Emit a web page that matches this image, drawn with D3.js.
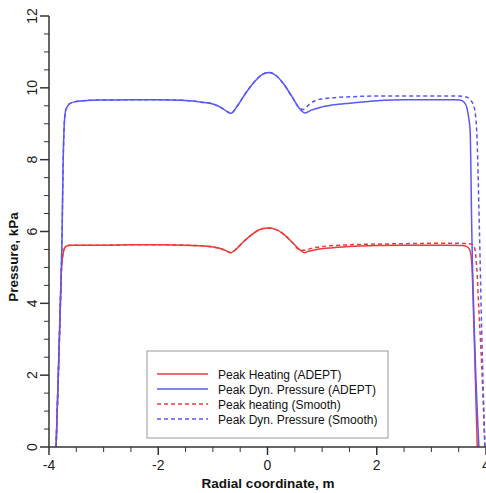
<!DOCTYPE html>
<html><head><meta charset="utf-8">
<script src="https://cdn.jsdelivr.net/npm/d3@7"></script>
<style>body{margin:0;background:#fff}svg{display:block}text{font-family:"Liberation Sans",Arial,sans-serif}</style>
</head><body><svg id="c" width="486" height="493"></svg>
<script>
// data
const heatAdeptX = [-3.87,-3.82,-3.77,-3.74,-3.71,-3.67,-3.62,-3.55,-3.3,-3.0,-2.5,-2.0,-1.5,-1.2,-1.0,-0.85,-0.74,-0.67,-0.58,-0.45,-0.3,-0.15,0,0.15,0.3,0.45,0.6,0.67,0.75,0.9,1.2,1.6,2.0,2.5,3.0,3.3,3.55,3.65,3.70,3.74,3.78,3.84];
const heatAdeptY = [0,2.5,5.0,5.4,5.55,5.6,5.62,5.62,5.62,5.62,5.63,5.63,5.62,5.6,5.57,5.52,5.45,5.41,5.5,5.7,5.9,6.05,6.1,6.06,5.92,5.7,5.48,5.41,5.45,5.5,5.55,5.59,5.61,5.62,5.62,5.62,5.61,5.58,5.5,5.1,3.3,0];
const dynAdeptX = [-3.87,-3.81,-3.76,-3.74,-3.72,-3.69,-3.62,-3.5,-3.3,-3.0,-2.5,-2.0,-1.5,-1.2,-1.0,-0.85,-0.74,-0.67,-0.55,-0.4,-0.25,-0.1,0.03,0.15,0.3,0.45,0.6,0.69,0.8,1.0,1.3,1.5,2.0,2.5,3.0,3.4,3.52,3.6,3.65,3.69,3.71,3.74,3.80,3.87];
const dynAdeptY = [0,3.0,6.0,8.0,9.0,9.4,9.56,9.62,9.65,9.66,9.67,9.67,9.65,9.6,9.55,9.45,9.34,9.29,9.5,9.85,10.15,10.37,10.43,10.35,10.1,9.75,9.4,9.3,9.38,9.47,9.54,9.57,9.64,9.67,9.67,9.67,9.66,9.6,9.45,9.1,8.8,6.0,2.6,0];
const heatSmoothX = [-3.87,-3.82,-3.77,-3.74,-3.71,-3.67,-3.62,-3.55,-3.3,-3.0,-2.5,-2.0,-1.5,-1.2,-1.0,-0.85,-0.74,-0.67,-0.58,-0.45,-0.3,-0.15,0,0.15,0.3,0.45,0.6,0.68,0.8,1.0,1.5,2.0,2.5,3.0,3.5,3.7,3.75,3.79,3.83,3.87,3.92,3.98];
const heatSmoothY = [0,2.5,5.0,5.4,5.55,5.6,5.62,5.62,5.62,5.62,5.63,5.63,5.62,5.6,5.57,5.52,5.45,5.41,5.5,5.7,5.9,6.05,6.1,6.06,5.92,5.7,5.48,5.48,5.53,5.58,5.63,5.65,5.66,5.67,5.67,5.66,5.64,5.55,5.0,3.8,2.3,0];
const dynSmoothX = [-3.87,-3.81,-3.76,-3.74,-3.72,-3.69,-3.62,-3.5,-3.3,-3.0,-2.5,-2.0,-1.5,-1.2,-1.0,-0.85,-0.74,-0.67,-0.55,-0.4,-0.25,-0.1,0.03,0.15,0.3,0.45,0.6,0.66,0.75,0.87,1.0,1.5,2.0,2.5,3.0,3.5,3.65,3.72,3.78,3.83,3.88,3.92,3.98];
const dynSmoothY = [0,3.0,6.0,8.0,9.0,9.4,9.56,9.62,9.65,9.66,9.67,9.67,9.65,9.6,9.55,9.45,9.34,9.29,9.5,9.85,10.15,10.37,10.43,10.35,10.1,9.75,9.42,9.4,9.52,9.64,9.69,9.75,9.77,9.77,9.77,9.77,9.74,9.65,9.48,8.8,6.0,3.3,0];
const xTicks = [-4,-2,0,2,4];
const yTicks = [0,2,4,6,8,10,12];
const legendLabels = ["Peak Heating (ADEPT)","Peak Dyn. Pressure (ADEPT)","Peak heating (Smooth)","Peak Dyn. Pressure (Smooth)"];

const series = [
  {x:heatAdeptX,y:heatAdeptY,color:"#ee3a3a",dash:null},
  {x:dynAdeptX,y:dynAdeptY,color:"#5858f8",dash:null},
  {x:heatSmoothX,y:heatSmoothY,color:"#ee3a3a",dash:"4,3"},
  {x:dynSmoothX,y:dynSmoothY,color:"#5858f8",dash:"4,3"}
];

const svg = d3.select("#c");
const x = d3.scaleLinear().domain([-4,4]).range([49,486]);
const y = d3.scaleLinear().domain([0,12]).range([447,16]);
const axisColor = "#333";

// lines
const line = d3.line().x(d=>x(d[0])).y(d=>y(d[1])).curve(d3.curveMonotoneX);
series.forEach(s=>{
  svg.append("path").datum(s.x.map((v,i)=>[v,s.y[i]]))
    .attr("d",line).attr("fill","none").attr("stroke",s.color)
    .attr("stroke-width",1.5).attr("stroke-dasharray",s.dash);
});

// x axis
const xMinor = d3.range(-4,4.01,0.5);
const gx = svg.append("g").attr("transform",`translate(0,${y(0)})`);
gx.append("line").attr("x1",x(-4)).attr("x2",486).attr("stroke",axisColor).attr("stroke-width",1.5);
gx.selectAll(".mn").data(xMinor).join("line").attr("x1",d=>x(d)).attr("x2",d=>x(d))
  .attr("y1",0).attr("y2",d=>xTicks.includes(d)?8:5).attr("stroke",axisColor).attr("stroke-width",d=>xTicks.includes(d)?1.5:1);
gx.selectAll(".lb").data(xTicks).join("text").attr("x",d=>x(d)).attr("y",23)
  .attr("text-anchor","middle").attr("font-size",14).attr("fill","#222").text(d=>d);

// y axis
const yMinor = d3.range(0,12.01,0.5);
const gy = svg.append("g").attr("transform",`translate(${x(-4)},0)`);
gy.append("line").attr("y1",y(0)).attr("y2",y(12)).attr("stroke",axisColor).attr("stroke-width",1.5);
gy.selectAll(".mn").data(yMinor).join("line").attr("y1",d=>y(d)).attr("y2",d=>y(d))
  .attr("x1",0).attr("x2",d=>yTicks.includes(d)?-9:-5).attr("stroke",axisColor).attr("stroke-width",d=>yTicks.includes(d)?1.5:1);
gy.selectAll(".lb").data(yTicks).join("text")
  .attr("transform",d=>`translate(-12,${y(d)}) rotate(-90)`)
  .attr("text-anchor","middle").attr("font-size",14).attr("fill","#222").text(d=>d);

// titles
svg.append("text").attr("x",268).attr("y",488).attr("text-anchor","middle")
  .attr("font-size",13.5).attr("font-weight","bold").attr("fill","#111").text("Radial coordinate, m");
svg.append("text").attr("transform",`translate(18,257) rotate(-90)`).attr("text-anchor","middle")
  .attr("font-size",13.5).attr("font-weight","bold").attr("fill","#111").text("Pressure, kPa");

// legend
const lg = svg.append("g");
lg.append("rect").attr("x",147).attr("y",351).attr("width",241).attr("height",87)
  .attr("fill","#fff").attr("stroke","#999").attr("stroke-width",1);
legendLabels.forEach((t,i)=>{
  const yy = 374 + i*15;
  lg.append("line").attr("x1",157).attr("x2",208).attr("y1",yy).attr("y2",yy)
    .attr("stroke",series[i].color).attr("stroke-width",1.3).attr("stroke-dasharray",series[i].dash);
  lg.append("text").attr("x",218).attr("y",yy+4.5).attr("font-size",12).attr("fill","#111").text(t);
});
</script></body></html>
